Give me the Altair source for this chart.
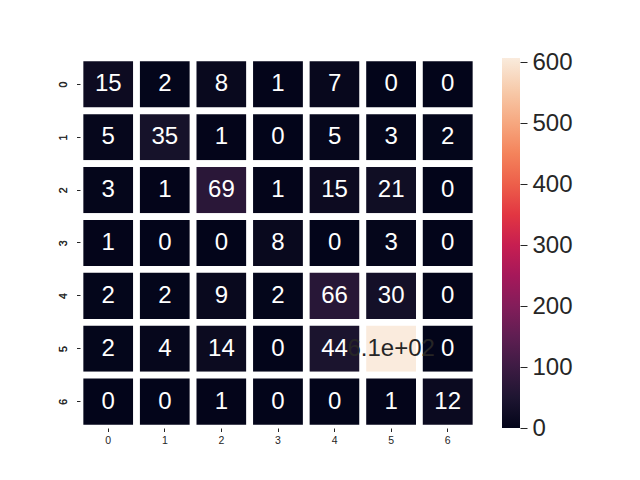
import altair as alt
import pandas as pd

rows = ["0", "1", "2", "3", "4", "5", "6"]
cols = ["0", "1", "2", "3", "4", "5", "6"]
matrix = [
    [15, 2, 8, 1, 7, 0, 0],
    [5, 35, 1, 0, 5, 3, 2],
    [3, 1, 69, 1, 15, 21, 0],
    [1, 0, 0, 8, 0, 3, 0],
    [2, 2, 9, 2, 66, 30, 0],
    [2, 4, 14, 0, 44, 607, 0],
    [0, 0, 1, 0, 0, 1, 12],
]
legend_values = [0, 100, 200, 300, 400, 500, 600]
rocket = ["#03051a", "#35193e", "#701f57", "#ad1759", "#e13342", "#f37651", "#f6b48f", "#faebdd"]

records = []
for i, r in enumerate(rows):
    for j, c in enumerate(cols):
        v = matrix[i][j]
        records.append({"row": r, "col": c, "v": v, "label": format(v, ".2g")})
df = pd.DataFrame(records)
vmax = max(max(r) for r in matrix)
ticks_df = pd.DataFrame({"t": legend_values})

FONT = "Liberation Sans"

base = alt.Chart(df).encode(
    x=alt.X("col:O", sort=cols, title=None,
            scale=alt.Scale(paddingInner=0, paddingOuter=0),
            axis=alt.Axis(orient="bottom", labelAngle=0, domain=False, tickSize=3.5,
                          tickColor="#262626", tickWidth=1, labelFontSize=10.5,
                          labelColor="#262626", labelFont=FONT, labelPadding=4)),
    y=alt.Y("row:O", sort=rows, title=None,
            scale=alt.Scale(paddingInner=0, paddingOuter=0),
            axis=alt.Axis(orient="left", labelAngle=270, domain=False, tickSize=3.5,
                          tickColor="#262626", tickWidth=1, labelFontSize=10.5,
                          labelColor="#262626", labelFont=FONT, labelPadding=8,
                          labelAlign="center", labelBaseline="bottom")),
)

rects = base.mark_rect(stroke="white", strokeWidth=6.7).encode(
    color=alt.Color("v:Q", title=None,
                    scale=alt.Scale(range=rocket, nice=False, zero=True),
                    legend=alt.Legend(orient="none", legendX=422, legendY=0,
                                      gradientLength=370, gradientThickness=18,
                                      direction="vertical", values=legend_values,
                                      labelOpacity=0, labelFontSize=1,
                                      gradientStrokeWidth=0))
)

texts = base.mark_text(fontSize=24, font=FONT).encode(
    text="label:N",
    color=alt.condition(alt.datum.v > 300, alt.value("#262626"), alt.value("white")),
)

cbar_axis = alt.Chart(ticks_df).mark_rule(opacity=0).encode(
    y=alt.Y("t:Q", title=None,
            scale=alt.Scale(domain=[0, vmax], nice=False, zero=True),
            axis=alt.Axis(orient="right", offset=44, values=legend_values, domain=False,
                          grid=False, tickSize=7, tickColor="#262626", tickWidth=1,
                          labelFontSize=24, labelFont=FONT, labelColor="#262626",
                          labelPadding=5, labelBaseline="middle", labelFlush=False,
                          labelOverlap=False)),
    x=alt.value(440),
    x2=alt.value(441),
)

chart = alt.layer(rects, texts, cbar_axis).resolve_scale(y="independent").properties(
    width=396, height=370,
    autosize=alt.AutoSizeParams(type="none"),
    padding={"left": 80, "top": 58, "right": 164, "bottom": 52},
).configure_view(stroke=None)

chart.save("out.html", embed_options={"renderer": "svg", "actions": False})
